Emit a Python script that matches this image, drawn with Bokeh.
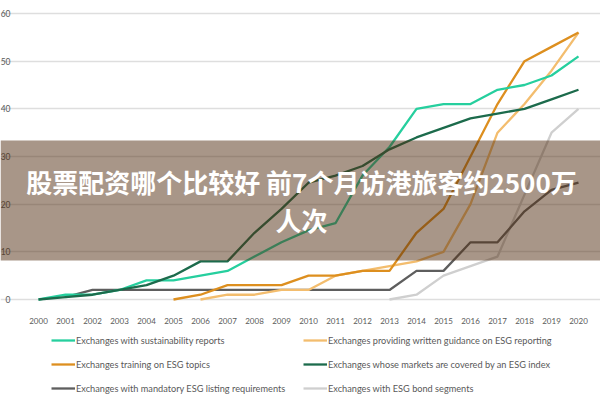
from bokeh.plotting import figure
from bokeh.models import (Legend, LegendItem, BoxAnnotation, Label, FixedTicker)
from bokeh.embed import file_html
from bokeh.resources import INLINE

years = list(range(2000, 2021))

sustainability = [0, 1, 1, 2, 4, 4, 5, 6, 9, 12, 14.5, 16, 26, 32, 40, 41, 41, 44, 45, 47, 51]
ind_years = list(range(2000, 2021))
esg_index = [0, 0.5, 1, 2, 3, 5, 8, 8, 14, 19, 24.5, 26, 28, 31.5, 34, 36, 38, 39, 40, 42, 44]
train_years = list(range(2005, 2021))
training = [0, 1, 3, 3, 3, 5, 5, 6, 6, 14, 19, 30, 41, 50, 53, 56]
guid_years = list(range(2006, 2021))
guidance = [0, 1, 1, 2, 2, 5, 6, 7, 8, 10, 20, 35, 41, 48, 56]
mand_years = list(range(2001, 2021))
mandatory = [0.5, 2, 2, 2, 2, 2, 2, 2, 2, 2, 2, 2, 2, 6, 6, 12, 12, 18.5, 23, 24.5]
bond_years = list(range(2013, 2021))
bonds = [0, 1, 5, 7, 9, 22, 35, 40]

labels = [
    "Exchanges with sustainability reports",
    "Exchanges training on ESG topics",
    "Exchanges with mandatory ESG listing requirements",
    "Exchanges providing written guidance on ESG reporting",
    "Exchanges whose markets are covered by an ESG index",
    "Exchanges with ESG bond segments",
]
y_ticks = [0, 10, 20, 30, 40, 50, 60]
banner_line1 = "股票配资哪个比较好 前7个月访港旅客约2500万"
banner_line2 = "人次"

FONT = "Lato"
TXT = "#595959"

# frame covers the whole canvas; axes are pinned inside it
PX_YEAR = 27.0
PX_UNIT = 286.0 / 60.0
x0 = 2000 - 38 / PX_YEAR
x1 = 2020 + 22 / PX_YEAR
y0 = -(400 - 299) / PX_UNIT
y1 = 60 + 13 / PX_UNIT
grid_left = 2000 - 14 / PX_YEAR
grid_right = 2020 + 17 / PX_YEAR
axis_y = -3 / PX_UNIT

p = figure(width=600, height=400, output_backend="svg", toolbar_location=None,
           x_range=(x0, x1), y_range=(y0, y1),
           min_border=0, min_border_left=0, min_border_right=0,
           min_border_top=0, min_border_bottom=0)
p.outline_line_color = None
p.xgrid.grid_line_color = None
p.ygrid.grid_line_color = "#dedede"
p.ygrid.grid_line_width = 1.5
p.ygrid.ticker = FixedTicker(ticks=y_ticks)
p.ygrid.bounds = (grid_left, grid_right)

for ax in (p.xaxis[0], p.yaxis[0]):
    ax.axis_line_color = None
    ax.major_tick_line_color = None
    ax.minor_tick_line_color = None
    ax.major_label_text_font = FONT
    ax.major_label_text_font_size = "8px"
    ax.major_label_text_color = TXT
p.yaxis.major_label_text_font_size = "8.5px"
p.xaxis.ticker = FixedTicker(ticks=years)
p.yaxis.ticker = FixedTicker(ticks=y_ticks)
p.yaxis.fixed_location = grid_left
p.xaxis.fixed_location = axis_y
p.yaxis.major_label_standoff = 8
p.xaxis.major_label_standoff = 9

lw = 2.3
r_bond = p.line(bond_years, bonds, line_color="#cfcfcf", line_width=lw)
r_mand = p.line(mand_years, mandatory, line_color="#5e5e5e", line_width=lw)
r_guid = p.line(guid_years, guidance, line_color="#f3bd6e", line_width=lw)
r_train = p.line(train_years, training, line_color="#dd8f1f", line_width=lw)
r_sust = p.line(years, sustainability, line_color="#26cf9e", line_width=lw)
r_idx = p.line(ind_years, esg_index, line_color="#1c6b4c", line_width=lw)

items = [
    LegendItem(label=labels[0], renderers=[r_sust]),
    LegendItem(label=labels[1], renderers=[r_train]),
    LegendItem(label=labels[2], renderers=[r_mand]),
    LegendItem(label=labels[3], renderers=[r_guid]),
    LegendItem(label=labels[4], renderers=[r_idx]),
    LegendItem(label=labels[5], renderers=[r_bond]),
]
legend = Legend(items=items, nrows=3, orientation="vertical",
                location=(51, 2), margin=0, padding=2,
                glyph_width=24, glyph_height=20, label_height=20,
                label_standoff=1, spacing=4, label_width=223,
                label_text_font=FONT, label_text_font_size="9.2px",
                label_text_color=TXT, border_line_color=None,
                background_fill_alpha=0)
p.add_layout(legend)

banner = BoxAnnotation(left=0, right=600, top=260, bottom=140,
                       left_units="screen", right_units="screen",
                       top_units="screen", bottom_units="screen",
                       fill_color="#512d11", fill_alpha=0.5, line_color=None,
                       level="annotation")
p.add_layout(banner)
for txt, yy in ((banner_line1, 219), (banner_line2, 181)):
    p.add_layout(Label(x=301, y=yy, x_units="screen", y_units="screen", text=txt,
                       text_align="center", text_baseline="middle",
                       text_font="Noto Sans CJK SC", text_font_style="bold",
                       text_font_size="26px", text_color="white", level="overlay"))

open("out.html", "w").write(file_html(p, INLINE))
